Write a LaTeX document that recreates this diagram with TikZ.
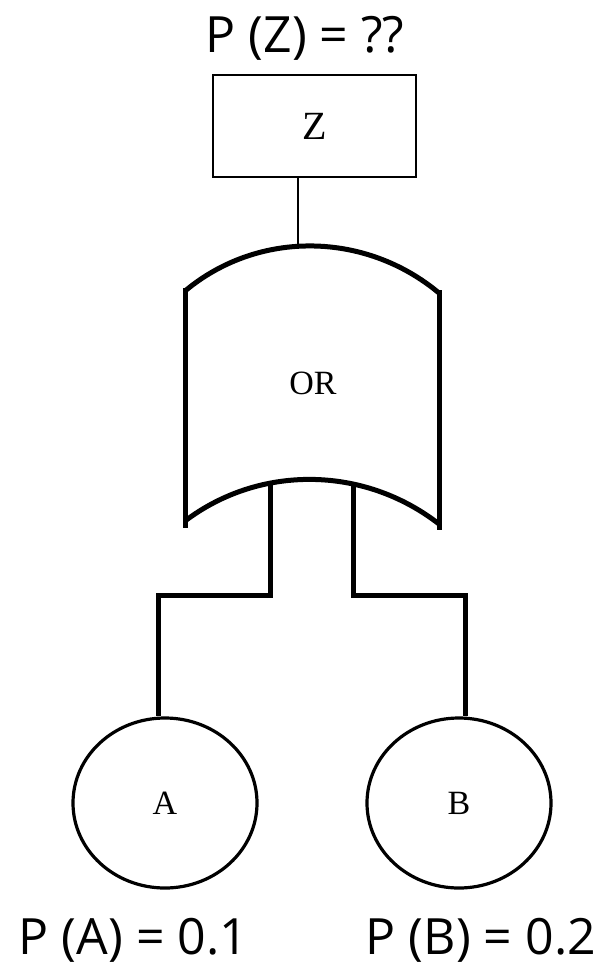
\documentclass[tikz,border=0pt]{standalone}
\usepackage{fontspec}
\setmainfont{Open Sans}
\newfontfamily\labelserif{Liberation Serif}
\usetikzlibrary{shapes.geometric}
\begin{document}
\begin{tikzpicture}[x=1pt,y=-1pt,
  prob/.style={font=\fontsize{50}{56}\selectfont, anchor=base, inner sep=0pt},
  evt/.style={font=\labelserif\fontsize{34}{40}\selectfont},
  thinline/.style={line width=1.5pt},
  thickline/.style={line width=5pt},
  basic/.style={draw, ellipse, line width=3.2pt, minimum width=184pt, minimum height=170pt, evt},
]
\useasboundingbox (0,0) rectangle (614,967);

% probability of the top event
\node[prob] (pz) at (305,52) {P (Z) = ??};

% top event
\node[draw, thinline, minimum width=203pt, minimum height=102pt, evt,
      font=\labelserif\fontsize{40}{46}\selectfont] (z) at (314.5,126) {Z};

% OR gate
\node[evt] (or) at (313,383) {OR};
\draw[thickline] (185,291) .. controls (258.5,229.6) and (365.5,231.6) .. (439,293);
\draw[thickline] (185,288) -- (185,528);
\draw[thickline] (439,290) -- (439,530);
\draw[thickline] (185,521) .. controls (260,464.3) and (364,465.8) .. (439,524);
\coordinate (gtop) at (298,247);
\coordinate (gin1) at (270,482);
\coordinate (gin2) at (353,482);

% basic events
\node[basic] (A) at (165,803) {A};
\node[basic] (B) at (459,803) {B};
\coordinate (ja) at (158,595);
\coordinate (jb) at (465,595);

% connectors
\draw[thinline] (z.south -| gtop) -- (gtop);
\draw[thickline] (gin1) |- (ja) -- (ja |- A.north);
\draw[thickline] (gin2) |- (jb) -- (jb |- B.north);

% probabilities of the basic events
\node[prob] (pa) at (133.5,954) {P (A) = 0.1};
\node[prob] (pb) at (481,954) {P (B) = 0.2};
\end{tikzpicture}
\end{document}
